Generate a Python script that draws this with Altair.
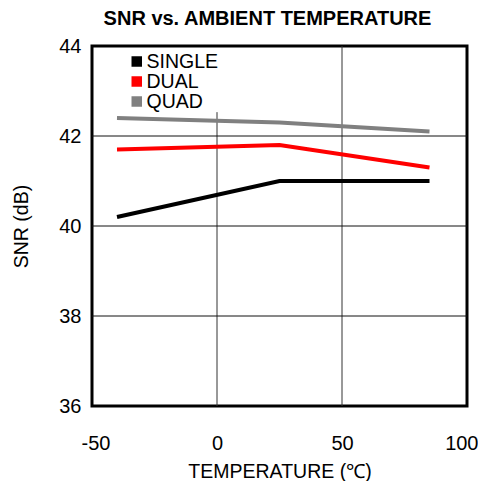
import altair as alt
import pandas as pd

temps = [-40, 25, 85]
single = [40.2, 41.0, 41.0]
dual = [41.7, 41.8, 41.3]
quad = [42.4, 42.3, 42.1]
series = ["SINGLE", "DUAL", "QUAD"]
colors = ["#000000", "#ff0000", "#808080"]
x_ticks = [-50, 0, 50, 100]
y_ticks = [36, 38, 40, 42, 44]
vgrid_x = [0, 50]
vgrid_top = [42.53, 44]
hgrid_y = [38, 40, 42]

rows = []
for name, vals in zip(series, [single, dual, quad]):
    for t, v in zip(temps, vals):
        rows.append({"temp": t, "snr": v, "series": name})
df = pd.DataFrame(rows)

vg = pd.DataFrame({"x": vgrid_x, "y1": [36] * len(vgrid_x), "y2": vgrid_top})
hg = pd.DataFrame({"y": hgrid_y})

FONT = "Liberation Sans"
xscale = alt.Scale(domain=[-50, 100], nice=False)
yscale = alt.Scale(domain=[36, 44], nice=False)
xaxis = alt.Axis(values=x_ticks, title="TEMPERATURE (℃)", grid=False, domain=False, ticks=False,
                 labelFontSize=20, labelPadding=27, titleFontSize=19.5, titleFontWeight="normal",
                 titlePadding=9, labelColor="black", titleColor="black", labelFont=FONT, titleFont=FONT,
                 labelFlush=True, labelFlushOffset=11, labelExpr="datum.value + ''")
yaxis = alt.Axis(values=y_ticks, title="SNR (dB)", grid=False, domain=False, ticks=False,
                 labelFontSize=20, labelPadding=11, titleFontSize=19.5, titleFontWeight="normal",
                 titlePadding=27, labelColor="black", titleColor="black", labelFont=FONT, titleFont=FONT,
                 labelFlush=False)

vrules = alt.Chart(vg).mark_rule(color="#333333", strokeWidth=1).encode(
    x=alt.X("x:Q", scale=xscale, axis=xaxis),
    y=alt.Y("y1:Q", scale=yscale, axis=yaxis),
    y2="y2:Q",
)
hrules = alt.Chart(hg).mark_rule(color="#111111", strokeWidth=1).encode(
    y=alt.Y("y:Q", scale=yscale, axis=yaxis),
)
lines = alt.Chart(df).mark_line(strokeWidth=4).encode(
    x=alt.X("temp:Q", scale=xscale, axis=xaxis),
    y=alt.Y("snr:Q", scale=yscale, axis=yaxis),
    color=alt.Color("series:N", scale=alt.Scale(domain=series, range=colors),
                    legend=alt.Legend(title=None, orient="none", legendX=35, legendY=6,
                                      symbolType="square", symbolSize=25, symbolStrokeWidth=5.5,
                                      symbolOpacity=1, labelFontSize=19.5, labelFont=FONT,
                                      labelColor="black", labelOffset=0, clipHeight=19,
                                      rowPadding=0, padding=0)),
)

chart = alt.layer(vrules, hrules, lines).properties(
    width=375, height=360,
    title=alt.TitleParams("SNR vs. AMBIENT TEMPERATURE", fontSize=20, font=FONT, fontWeight="bold",
                          anchor="middle", offset=7, dx=-12, color="black"),
    padding={"left": 84, "top": 38, "right": 11, "bottom": 75},
    autosize="none",
    background="white",
).configure_view(stroke="black", strokeWidth=3)

chart.save("out.html", embed_options={"renderer": "svg", "actions": False})
